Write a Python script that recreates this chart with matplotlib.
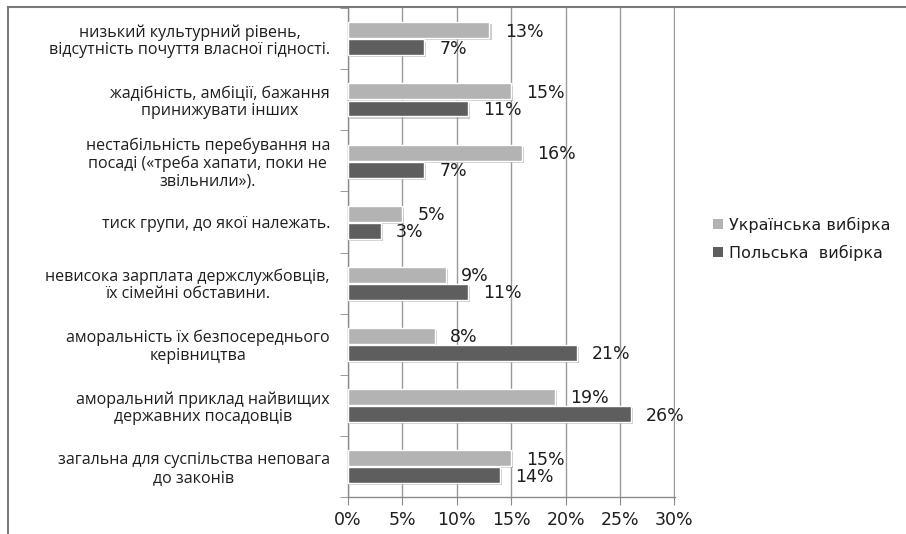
import matplotlib
matplotlib.use("Agg")
import matplotlib.pyplot as plt
import matplotlib.patheffects as pe
from matplotlib.lines import Line2D
import numpy as np

categories = [
    "низький культурний рівень,\nвідсутність почуття власної гідності.",
    "жадібність, амбіції, бажання\nпринижувати інших",
    "нестабільність перебування на\nпосаді («треба хапати, поки не\nзвільнили»).",
    "тиск групи, до якої належать.",
    "невисока зарплата держслужбовців,\nїх сімейні обставини.",
    "аморальність їх безпосереднього\nкерівництва",
    "аморальний приклад найвищих\nдержавних посадовців",
    "загальна для суспільства неповага\nдо законів",
]
ukr = [13, 15, 16, 5, 9, 8, 19, 15]
pol = [7, 11, 7, 3, 11, 21, 26, 14]
series_names = ["Українська вибірка", "Польська  вибірка"]
xticks = [0, 5, 10, 15, 20, 25, 30]

LIGHT = "#b3b3b3"
DARK = "#5e5e5e"
TXT = "#1e1e1e"

fig = plt.figure(figsize=(9.06, 5.34), dpi=100)
ax = fig.add_axes([348 / 906, 1 - 497 / 534, (675 - 348) / 906, (497 - 8) / 534])

y = np.arange(len(categories))
h = 0.26
shadow = [pe.withSimplePatchShadow(offset=(1.5, -1.5), shadow_rgbFace="#999999", alpha=0.5)]
b1 = ax.barh(y - 0.135, ukr, height=h, color=LIGHT, edgecolor="white", linewidth=1,
             label=series_names[0], zorder=3, path_effects=shadow)
b2 = ax.barh(y + 0.145, pol, height=h, color=DARK, edgecolor="white", linewidth=1,
             label=series_names[1], zorder=3, path_effects=shadow)

for bars, vals in ((b1, ukr), (b2, pol)):
    for bar, v in zip(bars, vals):
        ax.annotate(f"{v}%", (v, bar.get_y() + bar.get_height() / 2),
                    xytext=(11, -1), textcoords="offset points", ha="left", va="center",
                    fontsize=12.5, color=TXT, family="DejaVu Sans", zorder=4)

ax.set_xlim(0, 30.05)
ax.set_ylim(len(categories) - 0.5, -0.5)
ax.set_xticks(xticks)
ax.set_xticklabels([f"{t}%" for t in xticks], fontsize=12.5, color=TXT, family="DejaVu Sans")
ax.grid(axis="x", color="#9a9a9a", linewidth=1, zorder=0)
ax.set_axisbelow(True)

ax.set_yticks(y)
ax.set_yticklabels(categories, fontsize=11.5, color=TXT, family="Open Sans",
                   multialignment="center", linespacing=1.1)
ax.set_yticks(np.arange(len(categories) + 1) - 0.5, minor=True)
ax.tick_params(axis="y", which="major", length=0, pad=13)
ax.tick_params(axis="y", which="minor", length=6, color="#8a8a8a", direction="out")
ax.tick_params(axis="x", length=6, color="#8a8a8a", direction="out", pad=4)

for s in ("top", "right"):
    ax.spines[s].set_visible(False)
for s in ("left", "bottom"):
    ax.spines[s].set_color("#8a8a8a")
    ax.spines[s].set_linewidth(1)

leg = fig.legend(handles=[b1, b2], labels=series_names, loc="upper left",
                 bbox_to_anchor=(699 / 906, 1 - 202 / 534), frameon=False,
                 handlelength=0.6, handleheight=0.6, handletextpad=0.4,
                 labelspacing=0.75, prop={"family": "DejaVu Sans", "size": 11.5})
for t in leg.get_texts():
    t.set_color(TXT)
for p in leg.legend_handles:
    p.set_path_effects([])
    p.set_edgecolor("none")

# outer chart frame (left and top edges visible)
fig.add_artist(Line2D([8 / 906, 8 / 906], [0, 1 - 7 / 534], color="#7a7a7a", linewidth=1.5))
fig.add_artist(Line2D([8 / 906, 1], [1 - 7 / 534, 1 - 7 / 534], color="#7a7a7a", linewidth=1.5))

fig.savefig("out.png", dpi=100)
